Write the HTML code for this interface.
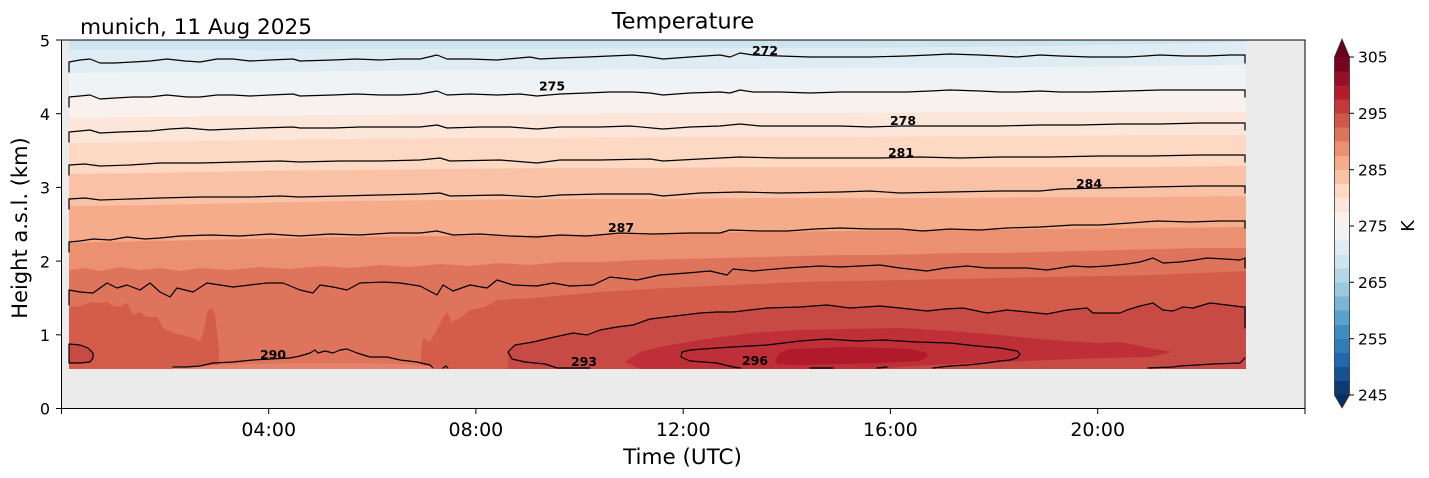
<!DOCTYPE html>
<html><head><meta charset="utf-8"><style>
html,body{margin:0;padding:0;background:#fff;}
svg{display:block;font-family:"DejaVu Sans","Liberation Sans",sans-serif;}
</style></head><body>
<svg width="1429" height="478" viewBox="0 0 1429 478" xmlns="http://www.w3.org/2000/svg">
<rect x="0" y="0" width="1429" height="478" fill="#fff"/>
<rect x="61.5" y="40" width="1243.5" height="368.5" fill="#ebebeb"/>
<defs><clipPath id="dc"><rect x="69" y="40" width="1177" height="329"/></clipPath></defs>
<g clip-path="url(#dc)">
<rect x="69" y="40" width="1177" height="329" fill="#cee4ef"/>
<path fill="#dfecf3" d="M69,50 L150,50 L250,50 L350,49 L450,49 L550,49 L650,48 L750,48 L850,48 L950,47 L1050,46 L1150,44 L1246,42 L1246,369 L69,369Z"/>
<path fill="#eff3f6" d="M69,73 L150,72 L250,72 L350,71 L450,70 L550,70 L650,69 L750,69 L850,68 L950,68 L1050,67 L1150,66 L1246,65 L1246,369 L69,369Z"/>
<path fill="#f8f1ed" d="M69,98 L150,97 L250,96 L350,95 L450,94 L550,93 L650,93 L750,92 L850,92 L950,91 L1050,91 L1150,91 L1246,90 L1246,369 L69,369Z"/>
<path fill="#fbe6d9" d="M69,118 L150,117 L250,116 L350,115 L450,114 L550,114 L650,113 L750,113 L850,113 L950,112 L1050,112 L1150,112 L1246,112 L1246,369 L69,369Z"/>
<path fill="#fdd9c4" d="M69,143 L150,142 L250,140 L350,139 L450,138 L550,138 L650,137 L750,137 L850,137 L950,136 L1050,136 L1150,135 L1246,135 L1246,369 L69,369Z"/>
<path fill="#f9c2a7" d="M69,174 L150,173 L250,171 L350,170 L450,169 L550,168 L650,168 L750,167 L850,167 L950,167 L1050,167 L1150,167 L1246,166 L1246,369 L69,369Z"/>
<path fill="#f5ac8b" d="M69,206 L150,205 L250,203 L350,201 L450,200 L550,199 L650,199 L750,198 L850,198 L950,198 L1050,197 L1150,197 L1246,196 L1246,369 L69,369Z"/>
<path fill="#eb9172" d="M69,243 L100,242 L150,241 L200,240 L250,239 L300,238 L350,237 L450,236 L550,235 L650,234 L750,232 L850,231 L950,230 L1050,229 L1150,228 L1246,227 L1246,369 L69,369Z"/>
<path fill="#df745c" d="M69,270 L85,268 L100,271 L120,267 L140,270 L160,268 L180,271 L200,268 L230,270 L260,267 L290,269 L320,266 L350,268 L380,265 L410,267 L440,264 L470,266 L500,263 L530,265 L560,262 L600,262 L640,260 L680,259 L720,258 L760,257 L800,256 L840,255 L880,255 L920,254 L960,253 L1000,253 L1040,252 L1080,251 L1120,250 L1160,249 L1200,248 L1246,248 L1246,369 L69,369Z"/>
<path fill="#d45c4b" d="M69,307 L80,306 L93,302 L100,303 L107,302 L113,306 L120,307 L127,303 L133,315 L140,312 L145,316 L150,317 L157,317 L160,322 L163,328 L173,333 L190,337 L200,341 L204,330 L207,312 L212,308 L215,315 L217,330 L219,350 L219,369 L69,369Z"/>
<path fill="#d45c4b" d="M421,369 L421,353 L423,338 L430,342 L437,330 L443,317 L447,312 L452,322 L460,318 L470,310 L485,307 L497,300 L533,298 L567,295 L600,292 L667,288 L733,285 L800,282 L850,281 L900,280 L950,279 L1000,278 L1050,277 L1100,276 L1150,275 L1200,273 L1246,271 L1246,369Z"/>
<path fill="#e4836a" d="M173,369 L173,367 L200,366 L213,365 L253,364 L300,363 L350,363 L400,364 L433,366 L435,369Z"/>
<path fill="#c84a44" d="M508,369 L508,352 L515,345 L533,342 L550,338 L573,333 L587,335 L600,330 L617,327 L633,325 L650,319 L667,317 L700,313 L717,312 L733,312 L750,310 L767,308 L800,307 L827,305 L850,308 L880,306 L900,308 L927,311 L945,309 L963,308 L987,313 L1007,310 L1027,312 L1047,314 L1067,310 L1087,308 L1093,313 L1120,313 L1127,310 L1140,306 L1153,303 L1163,310 L1173,311 L1183,307 L1193,308 L1210,303 L1227,305 L1246,307 L1246,369Z"/>
<path fill="#c84a44" d="M69,344 L80,345 L88,348 L93,353 L93,358 L90,362 L80,363 L69,363Z"/>
<path fill="#bf2f38" d="M625,362 L640,352 L660,347 L700,340 L750,333 L800,330 L850,329 L900,328 L950,331 L1000,335 L1050,340 L1100,343 L1120,342 L1150,348 L1172,352 L1150,357 L1100,358 L1050,360 L1000,362 L950,364 L900,367 L880,369 L640,369Z"/>
<path fill="#b01a2b" d="M775,361 L780,353 L790,349 L820,348 L850,347 L880,348 L910,349 L925,352 L928,356 L920,361 L880,363 L840,364 L800,365 L778,364Z"/>
</g>
<g fill="none" stroke="#000" stroke-width="1.2" stroke-linejoin="round" stroke-linecap="round">
<polyline points="69,72 69,62 80,60 90,59 100,63 115,63 133,62 150,61 167,59 185,61 200,62 217,59 233,59 250,61 270,60 293,59 300,61 333,60 357,59 380,60 400,59 420,59 437,55 447,59 470,59 497,60 530,57 540,59 560,58 587,57 610,56 633,55 650,57 663,59 690,57 720,55 730,57 740,53 753,55 780,56 810,57 840,57 870,57 907,56 930,55 950,54 980,55 1000,56 1017,57 1040,55 1060,56 1090,57 1127,57 1145,56 1160,55 1185,56 1207,56 1230,55 1245,55 1245,63"/>
<polyline points="69,107 69,97 80,96 90,95 100,99 115,98 133,97 150,97 167,95 187,97 200,97 217,95 233,95 250,96 270,95 293,94 300,96 333,95 357,94 380,95 400,95 420,94 437,91 447,95 470,94 497,95 520,94 537,96 560,94 587,93 610,92 633,92 650,93 663,95 690,93 720,92 730,93 740,90 753,92 780,92 810,93 840,92 870,92 907,92 930,91 950,90 980,91 1000,92 1017,92 1040,91 1060,92 1090,92 1127,91 1160,90 1207,90 1230,90 1245,90 1245,97"/>
<polyline points="69,142 69,132 80,131 90,130 100,133 120,132 150,131 170,129 187,128 210,130 233,129 260,128 293,127 300,128 333,128 360,127 400,127 420,127 437,125 447,128 480,127 510,127 537,129 560,127 600,127 630,126 663,129 690,127 720,126 740,124 760,126 800,126 840,126 870,127 900,126 950,126 1000,126 1040,125 1080,125 1120,124 1160,124 1200,123 1245,123 1245,130"/>
<polyline points="69,175 69,165 85,164 100,166 130,165 160,163 200,163 240,162 280,161 300,162 340,161 380,161 420,160 440,158 450,161 500,160 537,163 560,160 600,160 650,159 663,161 700,159 740,157 780,158 840,158 880,158 920,157 960,158 1000,157 1050,157 1100,156 1150,156 1200,155 1245,155 1245,162"/>
<polyline points="69,209 69,199 85,198 100,200 130,199 160,198 200,197 250,197 280,196 300,197 340,196 380,195 420,194 440,193 450,196 500,195 537,197 560,195 600,194 650,194 663,196 700,193 740,192 780,193 840,192 870,191 900,193 950,192 1000,191 1040,191 1060,189 1100,188 1150,187 1200,186 1245,186 1245,193"/>
<polyline points="69,252 69,242 80,241 93,239 110,240 127,237 145,239 160,238 180,236 210,235 240,236 270,234 300,236 330,234 360,235 390,233 420,233 437,231 453,235 480,234 510,236 537,237 560,235 587,236 620,233 653,234 690,233 720,233 730,230 760,231 787,231 815,229 840,228 870,229 900,229 923,231 950,229 980,230 1007,228 1040,227 1073,225 1100,225 1130,223 1157,221 1190,222 1220,221 1245,221 1245,228"/>
<polyline points="69,305 69,290 80,292 93,293 107,283 117,288 127,285 140,290 150,283 160,292 170,297 177,288 193,292 207,283 220,285 233,287 250,285 267,283 283,283 300,290 313,293 320,285 333,287 347,290 360,283 383,282 400,283 420,286 437,295 443,285 453,291 470,285 487,288 497,280 513,285 537,286 553,283 570,286 593,285 610,277 637,280 660,275 687,273 710,271 727,275 733,269 753,271 787,268 820,266 840,267 860,266 880,265 900,268 927,271 945,268 967,266 987,268 1007,268 1027,268 1047,270 1060,268 1073,266 1090,267 1107,266 1127,264 1140,262 1153,258 1163,263 1180,262 1195,260 1207,258 1225,259 1240,260 1245,258 1245,268"/>
<polyline points="590,368 557,368 545,364 525,362 512,359 508,352 515,345 533,342 550,338 573,333 587,335 600,330 617,327 633,325 650,319 667,317 700,313 717,312 733,312 750,310 767,308 800,307 827,305 850,308 880,306 900,308 927,311 945,309 963,308 987,313 1007,310 1027,312 1047,314 1067,310 1087,308 1093,313 1120,313 1127,310 1140,306 1153,303 1163,310 1173,311 1183,307 1193,308 1210,303 1227,305 1243,307 1245,307 1245,328"/>
<polyline points="1148,368 1173,367 1180,366 1213,364 1240,363 1245,358"/>
<polyline points="810,368 833,368"/>
<polyline points="877,368 887,367"/>
<polyline points="740,368 733,367 717,363 690,361 681,357 682,352 690,350 717,348 733,347 767,345 800,341 827,339 857,341 883,340 917,342 950,343 977,346 1000,348 1017,351 1020,354 1017,358 1010,360 1000,361 987,363 967,365 950,366 933,368"/>
<polyline points="173,367 187,367 200,366 213,363 233,362 253,360 270,359 290,358 300,356 310,353 315,350 318,353 325,351 333,353 340,350 347,349 357,353 370,357 387,357 400,360 417,362 430,365 433,368"/>
<polyline points="443,368 446,366 448,368"/>
<polygon points="69,344 80,345 88,348 93,353 93,358 90,362 80,363 69,363"/>
</g>
<g font-family="DejaVu Sans, Liberation Sans, sans-serif" font-weight="bold" font-size="12.5" text-anchor="middle" fill="#000">
<text x="765" y="55">272</text>
<text x="552" y="90.5">275</text>
<text x="903" y="125">278</text>
<text x="901" y="157">281</text>
<text x="1089" y="188">284</text>
<text x="621" y="232">287</text>
<text x="273" y="359">290</text>
<text x="584" y="366">293</text>
<text x="755" y="365">296</text>
</g>
<rect x="61.5" y="40" width="1243.5" height="368.5" fill="none" stroke="#000" stroke-width="1"/>
<g stroke="#000" stroke-width="1">
<line x1="61.5" y1="408.5" x2="61.5" y2="414"/>
<line x1="268.7" y1="408.5" x2="268.7" y2="414"/>
<line x1="475.9" y1="408.5" x2="475.9" y2="414"/>
<line x1="683.2" y1="408.5" x2="683.2" y2="414"/>
<line x1="890.4" y1="408.5" x2="890.4" y2="414"/>
<line x1="1097.7" y1="408.5" x2="1097.7" y2="414"/>
<line x1="1305" y1="408.5" x2="1305" y2="414"/>
<line x1="56" y1="408.5" x2="61.5" y2="408.5"/>
<line x1="56" y1="334.8" x2="61.5" y2="334.8"/>
<line x1="56" y1="261.1" x2="61.5" y2="261.1"/>
<line x1="56" y1="187.4" x2="61.5" y2="187.4"/>
<line x1="56" y1="113.7" x2="61.5" y2="113.7"/>
<line x1="56" y1="40" x2="61.5" y2="40"/>
</g>
<g font-size="19" text-anchor="middle" fill="#000">
<text x="268.7" y="436">04:00</text>
<text x="475.9" y="436">08:00</text>
<text x="683.2" y="436">12:00</text>
<text x="890.4" y="436">16:00</text>
<text x="1097.7" y="436">20:00</text>
</g>
<g font-size="16" text-anchor="end" fill="#000">
<text x="50" y="414.5">0</text>
<text x="50" y="341">1</text>
<text x="50" y="267.3">2</text>
<text x="50" y="193.6">3</text>
<text x="50" y="119.9">4</text>
<text x="50" y="46.5">5</text>
</g>
<text x="682.5" y="464" font-size="21.5" text-anchor="middle" fill="#000">Time (UTC)</text>
<text transform="translate(27,228) rotate(-90)" font-size="21" text-anchor="middle" fill="#000">Height a.s.l. (km)</text>
<text x="683" y="28.5" font-size="22.5" text-anchor="middle" fill="#000">Temperature</text>
<text x="80" y="34" font-size="21.6" fill="#000">munich, 11 Aug 2025</text>
<g shape-rendering="crispEdges">
<rect x="1334.5" y="380.92" width="15" height="14.3" fill="#0b3b71"/>
<rect x="1334.5" y="366.83" width="15" height="14.3" fill="#175290"/>
<rect x="1334.5" y="352.75" width="15" height="14.3" fill="#2268ad"/>
<rect x="1334.5" y="338.67" width="15" height="14.3" fill="#317bb7"/>
<rect x="1334.5" y="324.58" width="15" height="14.3" fill="#3f8dc0"/>
<rect x="1334.5" y="310.5" width="15" height="14.3" fill="#5aa2cb"/>
<rect x="1334.5" y="296.42" width="15" height="14.3" fill="#7bb6d6"/>
<rect x="1334.5" y="282.33" width="15" height="14.3" fill="#9ac9e0"/>
<rect x="1334.5" y="268.25" width="15" height="14.3" fill="#b4d6e8"/>
<rect x="1334.5" y="254.17" width="15" height="14.3" fill="#cee4ef"/>
<rect x="1334.5" y="240.08" width="15" height="14.3" fill="#dfecf3"/>
<rect x="1334.5" y="226" width="15" height="14.3" fill="#eff3f6"/>
<rect x="1334.5" y="211.92" width="15" height="14.3" fill="#f8f1ed"/>
<rect x="1334.5" y="197.83" width="15" height="14.3" fill="#fbe6d9"/>
<rect x="1334.5" y="183.75" width="15" height="14.3" fill="#fdd9c4"/>
<rect x="1334.5" y="169.67" width="15" height="14.3" fill="#f9c2a7"/>
<rect x="1334.5" y="155.58" width="15" height="14.3" fill="#f5ac8b"/>
<rect x="1334.5" y="141.5" width="15" height="14.3" fill="#eb9172"/>
<rect x="1334.5" y="127.42" width="15" height="14.3" fill="#df745c"/>
<rect x="1334.5" y="113.33" width="15" height="14.3" fill="#d25749"/>
<rect x="1334.5" y="99.25" width="15" height="14.3" fill="#c3393b"/>
<rect x="1334.5" y="85.17" width="15" height="14.3" fill="#b41b2c"/>
<rect x="1334.5" y="71.08" width="15" height="14.3" fill="#960f27"/>
<rect x="1334.5" y="57" width="15" height="14.3" fill="#770522"/>
</g>
<polygon points="1334.5,57.3 1342,39 1349.5,57.3" fill="#67001f"/>
<polygon points="1334.5,394.8 1342,408 1349.5,394.8" fill="#053061"/>
<path d="M1334.5,57 L1342,39 L1349.5,57 L1349.5,395 L1342,408 L1334.5,395 Z" fill="none" stroke="#333" stroke-width="0.8"/>
<g stroke="#000" stroke-width="1">
<line x1="1349.5" y1="57" x2="1354" y2="57"/>
<line x1="1349.5" y1="113.3" x2="1354" y2="113.3"/>
<line x1="1349.5" y1="169.7" x2="1354" y2="169.7"/>
<line x1="1349.5" y1="226" x2="1354" y2="226"/>
<line x1="1349.5" y1="282.3" x2="1354" y2="282.3"/>
<line x1="1349.5" y1="338.7" x2="1354" y2="338.7"/>
<line x1="1349.5" y1="395" x2="1354" y2="395"/>
</g>
<g font-size="15.5" fill="#000">
<text x="1358" y="62.7">305</text>
<text x="1358" y="119">295</text>
<text x="1358" y="175.4">285</text>
<text x="1358" y="231.7">275</text>
<text x="1358" y="288">265</text>
<text x="1358" y="344.4">255</text>
<text x="1358" y="400.7">245</text>
</g>
<text transform="translate(1414,226) rotate(-90)" font-size="17.5" text-anchor="middle" fill="#000">K</text>
</svg>
</body></html>
